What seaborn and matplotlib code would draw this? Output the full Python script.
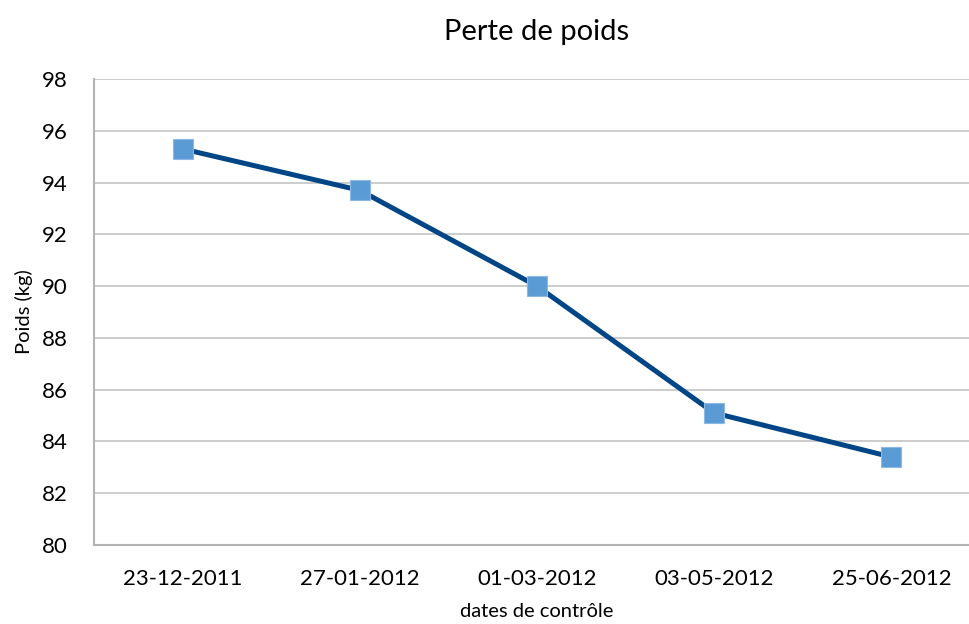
import pandas as pd
import seaborn as sns
import matplotlib.pyplot as plt

dates = ["23-12-2011", "27-01-2012", "01-03-2012", "03-05-2012", "25-06-2012"]
poids = [95.3, 93.7, 90.0, 85.1, 83.4]

df = pd.DataFrame({"date": dates, "poids": poids})

sns.set_style("white")
plt.rcParams["font.family"] = ["Lato", "DejaVu Sans"]
plt.rcParams["text.color"] = "black"
plt.rcParams["axes.labelcolor"] = "black"

fig = plt.figure(figsize=(9.7, 6.24), dpi=100)
ax = fig.add_axes([94 / 970, 79 / 624, 886 / 970, 466 / 624])

sns.lineplot(data=df, x="date", y="poids", ax=ax, color="#004586", linewidth=3.6,
             marker="s", markersize=14, markerfacecolor="#5B9BD5",
             markeredgecolor="#8DB8E4", markeredgewidth=0.8, sort=False)

ax.set_xlim(-0.5, 4.5)
ax.set_ylim(80, 98)
ax.set_yticks(range(80, 99, 2))
ax.grid(axis="y", color="#BFBFBF", linewidth=1.1)
ax.set_axisbelow(True)
for s in ["top", "right"]:
    ax.spines[s].set_visible(False)
for s in ["left", "bottom"]:
    ax.spines[s].set_color("#B3B3B3")
    ax.spines[s].set_linewidth(1.5)
ax.tick_params(length=0, labelsize=16, colors="black")
ax.tick_params(axis="y", pad=19)
ax.tick_params(axis="x", pad=17)

ax.set_title("Perte de poids", fontsize=21, pad=28, color="black")
ax.set_ylabel("Poids (kg)", fontsize=14.5, color="black")
ax.set_xlabel("dates de contrôle", fontsize=14.5, color="black")
ax.yaxis.set_label_coords(-0.069, 0.5)
ax.xaxis.set_label_coords(0.5, -0.125)

fig.savefig("out.png", dpi=100)
